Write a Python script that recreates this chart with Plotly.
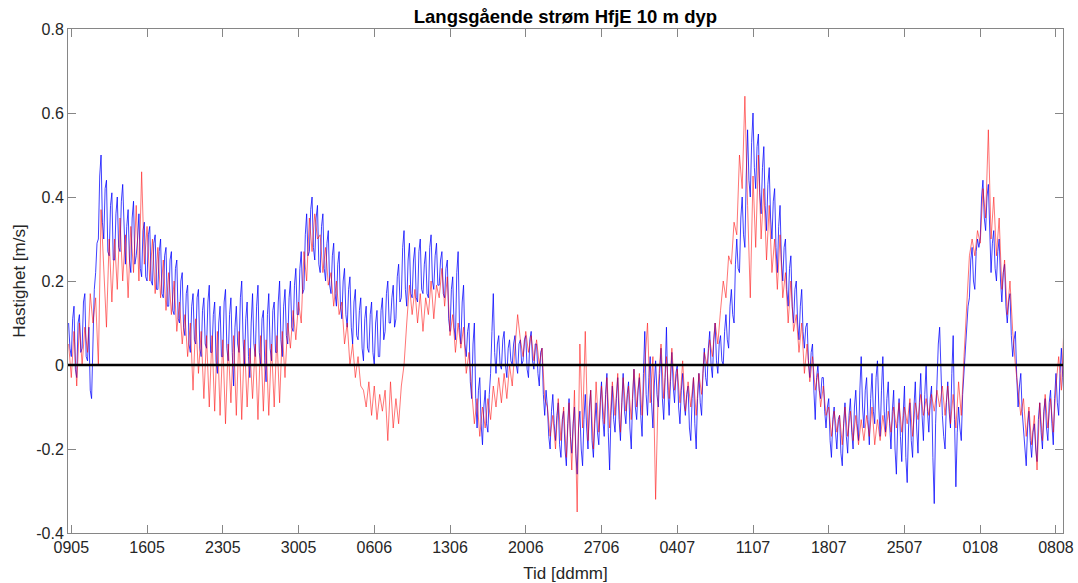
import pandas as pd
import plotly.graph_objects as go

start_time = "2021-05-08 18:00"

# blue: 3-hourly samples (8 per day: 00,03,...,21), starting 08.05 18:00
blue = [0.10, 0.04,
    0.02, 0.11, 0.14, -0.01, -0.03, 0.10, 0.12, 0.03,      # 09.05
    0.04, 0.15, 0.17, 0.02, 0.01, 0.09, -0.06, -0.08,
    0.05, 0.18, 0.22, 0.29, 0.30, 0.45, 0.50, 0.34,
    0.30, 0.42, 0.44, 0.27, 0.26, 0.38, 0.41, 0.25,
    0.25, 0.36, 0.40, 0.28, 0.27, 0.39, 0.43, 0.30,
    0.24, 0.33, 0.37, 0.25, 0.22, 0.35, 0.39, 0.24,
    0.26, 0.30, 0.36, 0.23, 0.21, 0.32, 0.34, 0.21,
    0.20, 0.31, 0.33, 0.20, 0.19, 0.29, 0.31, 0.18,      # 16.05
    0.18, 0.27, 0.30, 0.17, 0.16, 0.26, 0.28, 0.14,
    0.14, 0.25, 0.27, 0.13, 0.12, 0.23, 0.25, 0.11,
    0.10, 0.20, 0.22, 0.09, 0.07, 0.17, 0.19, 0.05,
    0.03, 0.14, 0.17, 0.06, 0.05, 0.16, 0.18, 0.04,
    0.02, 0.13, 0.16, 0.05, 0.04, 0.15, 0.19, 0.03,
    0.03, 0.12, 0.15, 0.01, -0.02, 0.10, 0.14, 0.02,
    0.02, 0.15, 0.18, 0.04, 0.01, 0.12, 0.16, 0.03,      # 23.05
    -0.05, 0.09, 0.14, 0.05, 0.03, 0.16, 0.20, 0.06,
    0.00, 0.11, 0.15, 0.02, -0.03, 0.10, 0.17, 0.05,
    0.02, 0.14, 0.19, 0.03, 0.00, 0.11, 0.13, 0.01,
    -0.04, 0.12, 0.17, 0.04, 0.01, 0.13, 0.15, 0.03,
    0.03, 0.15, 0.20, 0.06, 0.02, 0.14, 0.18, 0.07,
    0.05, 0.16, 0.20, 0.09, 0.08, 0.19, 0.23, 0.12,
    0.12, 0.23, 0.27, 0.17, 0.18, 0.31, 0.36, 0.26,      # 30.05
    0.27, 0.37, 0.40, 0.28, 0.25, 0.35, 0.38, 0.24,
    0.22, 0.33, 0.36, 0.23, 0.20, 0.29, 0.32, 0.19,
    0.17, 0.26, 0.29, 0.17, 0.14, 0.24, 0.27, 0.14,
    0.11, 0.20, 0.23, 0.12, 0.09, 0.18, 0.21, 0.09,
    0.05, 0.15, 0.18, 0.07, 0.06, 0.13, 0.16, 0.04,
    0.01, 0.11, 0.14, 0.04, 0.03, 0.12, 0.15, 0.03,
    0.00, 0.10, 0.13, 0.02, 0.02, 0.13, 0.16, 0.06,      # 06.06
    0.08, 0.17, 0.20, 0.10, 0.10, 0.16, 0.19, 0.09,
    0.11, 0.21, 0.24, 0.15, 0.16, 0.28, 0.32, 0.18,
    0.14, 0.25, 0.29, 0.17, 0.16, 0.25, 0.28, 0.16,
    0.15, 0.27, 0.30, 0.18, 0.17, 0.24, 0.27, 0.17,
    0.16, 0.28, 0.31, 0.20, 0.18, 0.26, 0.29, 0.19,
    0.19, 0.25, 0.27, 0.17, 0.16, 0.23, 0.25, 0.11,
    0.08, 0.18, 0.21, 0.09, 0.06, 0.22, 0.27, 0.09,      # 13.06
    0.05, 0.15, 0.19, 0.05, 0.02, 0.08, 0.10, -0.04,
    -0.08, 0.05, 0.10, -0.08, -0.15, -0.06, -0.03, -0.14,
    -0.19, -0.10, -0.06, -0.14, -0.16, -0.07, -0.02, 0.08,
    0.17, 0.03, -0.02, 0.05, 0.07, 0.00, -0.01, 0.06,
    0.08, 0.00, -0.03, 0.04, 0.06, 0.01, 0.00, 0.05,
    0.07, 0.00, -0.02, 0.05, 0.06, 0.00, 0.01, 0.06,
    0.07, -0.01, -0.03, 0.06, 0.08, 0.01, -0.01, 0.05,   # 20.06
    0.05, -0.02, -0.05, 0.03, 0.04, -0.07, -0.12, -0.06,
    -0.10, -0.17, -0.20, -0.11, -0.07, -0.14, -0.18, -0.12,
    -0.09, -0.19, -0.22, -0.13, -0.11, -0.20, -0.24, -0.14,
    -0.08, -0.17, -0.21, -0.14, -0.10, -0.21, -0.26, -0.15,
    -0.11, -0.20, -0.24, -0.13, -0.07, -0.15, -0.20, -0.10,
    -0.06, -0.18, -0.22, -0.14, -0.09, -0.16, -0.19, -0.09,
    -0.04, -0.13, -0.17, -0.07, -0.02, -0.16, -0.25, -0.12,  # 27.06
    -0.05, -0.13, -0.16, -0.08, -0.03, -0.13, -0.18, -0.09,
    -0.02, -0.11, -0.14, -0.07, -0.04, -0.15, -0.20, -0.08,
    -0.01, -0.10, -0.13, -0.06, -0.03, -0.12, -0.17, -0.02,
    0.08, -0.07, -0.12, -0.03, 0.02, -0.09, -0.15, -0.05,
    0.01, -0.07, -0.10, -0.02, 0.04, -0.08, -0.13, -0.03,
    0.09, -0.06, -0.12, -0.04, 0.03, -0.05, -0.09, -0.02,
    0.00, -0.10, -0.14, -0.06, -0.02, -0.09, -0.12, -0.07,   # 04.07
    -0.05, -0.15, -0.18, -0.08, -0.03, -0.14, -0.20, -0.08,
    -0.02, -0.09, -0.12, -0.02, 0.04, -0.03, -0.05, 0.04,
    0.08, 0.00, -0.03, 0.06, 0.10, 0.01, -0.02, 0.05,
    0.07, 0.01, 0.00, 0.08, 0.12, 0.06, 0.04, 0.14,
    0.18, 0.12, 0.10, 0.24, 0.30, 0.23, 0.22, 0.35,
    0.40, 0.31, 0.28, 0.45, 0.56, 0.44, 0.40, 0.53,
    0.60, 0.47, 0.42, 0.52, 0.55, 0.41, 0.36, 0.47,      # 11.07
    0.52, 0.38, 0.32, 0.43, 0.47, 0.35, 0.30, 0.39,
    0.42, 0.28, 0.22, 0.33, 0.38, 0.25, 0.20, 0.28,
    0.30, 0.18, 0.14, 0.23, 0.26, 0.14, 0.10, 0.18,
    0.20, 0.10, 0.06, 0.14, 0.18, 0.08, 0.04, 0.09,
    0.10, 0.01, -0.03, 0.03, 0.05, -0.06, -0.13, -0.03,
    0.00, -0.06, -0.08, -0.03, -0.03, -0.11, -0.15, -0.10,
    -0.08, -0.18, -0.22, -0.13, -0.10, -0.16, -0.20, -0.13,  # 18.07
    -0.12, -0.21, -0.24, -0.14, -0.09, -0.17, -0.21, -0.12,
    -0.08, -0.16, -0.20, -0.10, -0.06, -0.14, -0.18, -0.06,
    0.02, -0.10, -0.15, -0.06, -0.03, -0.13, -0.19, -0.08,
    -0.02, -0.11, -0.14, -0.03, 0.01, -0.10, -0.17, -0.06,
    0.02, -0.11, -0.16, -0.08, -0.04, -0.14, -0.20, -0.11,
    -0.06, -0.20, -0.26, -0.14, -0.08, -0.17, -0.23, -0.12,
    -0.05, -0.22, -0.28, -0.15, -0.09, -0.18, -0.22, -0.10,  # 25.07
    -0.04, -0.15, -0.21, -0.09, -0.02, -0.12, -0.18, -0.07,
    0.00, -0.11, -0.16, -0.08, -0.05, -0.22, -0.33, -0.14,
    -0.03, 0.05, 0.09, -0.04, -0.12, -0.17, -0.20, -0.09,
    -0.04, -0.11, -0.15, -0.02, 0.07, -0.13, -0.29, -0.16,
    -0.10, -0.15, -0.18, -0.07, -0.02, 0.05, 0.10, 0.14,
    0.16, 0.25, 0.28, 0.20, 0.18, 0.27, 0.30, 0.28,
    0.30, 0.40, 0.44, 0.35, 0.32, 0.40, 0.43, 0.29,      # 01.08
    0.22, 0.29, 0.32, 0.23, 0.20, 0.27, 0.30, 0.20,
    0.15, 0.22, 0.24, 0.14, 0.10, 0.15, 0.17, 0.07,
    0.02, 0.06, 0.08, -0.03, -0.10, -0.05, -0.02, -0.11,
    -0.15, -0.21, -0.24, -0.15, -0.11, -0.18, -0.22, -0.16,
    -0.14, -0.20, -0.23, -0.13, -0.09, -0.16, -0.20, -0.11,
    -0.08, -0.15, -0.18, -0.09, -0.06, -0.14, -0.19, -0.08,
    -0.02, -0.09, -0.12, -0.02, 0.04, -0.03, -0.08, -0.04,   # 08.08
    -0.05]

# red: 6-hourly samples (4 per day: 00,06,12,18), starting 08.05 18:00
red = [0.05,
    -0.03, 0.08, -0.05, 0.10,  # 09.05
    0.00, 0.09, 0.03, 0.17,
    0.10, 0.16, 0.00, 0.37,
    0.24, 0.09, 0.30, 0.15,
    0.30, 0.18, 0.35, 0.20,
    0.31, 0.16, 0.33, 0.22,
    0.38, 0.20, 0.46, 0.24,
    0.33, 0.20, 0.30, 0.17,    # 16.05
    0.28, 0.16, 0.25, 0.13,
    0.22, 0.12, 0.20, 0.08,
    0.15, 0.05, 0.12, 0.02,
    0.10, -0.06, 0.11, -0.02,
    0.08, -0.08, 0.07, -0.10,
    0.07, -0.11, 0.08, -0.12,
    0.06, -0.14, 0.05, -0.09,  # 23.05
    0.07, -0.12, 0.08, -0.13,
    0.06, -0.10, 0.04, -0.08,
    0.05, -0.13, 0.07, -0.11,
    0.06, -0.12, 0.05, -0.10,
    0.07, -0.09, 0.08, -0.03,
    0.10, 0.04, 0.13, 0.06,
    0.15, 0.10, 0.27, 0.20,    # 30.05
    0.35, 0.27, 0.36, 0.30,
    0.31, 0.22, 0.28, 0.19,
    0.22, 0.14, 0.20, 0.12,
    0.15, 0.05, 0.10, 0.00,
    0.05, -0.03, 0.02, -0.05,
    -0.06, -0.10, -0.04, -0.12,
    -0.05, -0.13, -0.07, -0.11,  # 06.06
    -0.06, -0.18, -0.04, -0.15,
    -0.08, -0.14, -0.05, 0.00,
    0.10, 0.19, 0.12, 0.18,
    0.10, 0.17, 0.08, 0.16,
    0.12, 0.20, 0.11, 0.19,
    0.16, 0.23, 0.14, 0.21,
    0.07, 0.12, 0.03, 0.10,      # 13.06
    0.04, 0.09, -0.02, 0.03,
    -0.06, -0.14, -0.08, -0.17,
    -0.10, -0.15, -0.08, -0.13,
    -0.05, -0.10, -0.03, -0.09,
    -0.02, -0.08, 0.00, -0.05,
    0.04, 0.12, 0.06, 0.02,
    0.08, 0.03, 0.07, 0.01,      # 20.06
    0.06, 0.00, 0.04, -0.08,
    -0.10, -0.17, -0.12, -0.20,
    -0.08, -0.18, -0.10, -0.22,
    -0.09, -0.25, -0.06, -0.35,
    0.05, -0.15, 0.08, -0.18,
    -0.06, -0.20, -0.04, -0.16,
    -0.05, -0.14, -0.03, -0.15,  # 27.06
    -0.04, -0.12, -0.02, -0.16,
    -0.03, -0.11, -0.05, -0.13,
    -0.01, -0.10, -0.02, -0.12,
    0.00, 0.10, -0.09, 0.02,
    -0.32, -0.05, 0.05, -0.08,
    0.02, -0.08, 0.04, -0.06,
    -0.01, -0.09, 0.01, -0.11,   # 04.07
    -0.04, -0.10, -0.03, -0.12,
    -0.02, -0.07, 0.03, 0.00,
    0.06, 0.02, 0.10, 0.05,
    0.13, 0.20, 0.16, 0.26,
    0.24, 0.34, 0.31, 0.50,
    0.42, 0.64, 0.38, 0.16,
    0.45, 0.28, 0.50, 0.30,      # 11.07
    0.42, 0.25, 0.38, 0.22,
    0.30, 0.18, 0.31, 0.16,
    0.22, 0.10, 0.20, 0.08,
    0.12, 0.03, 0.10, -0.02,
    0.05, -0.04, 0.02, -0.06,
    -0.02, -0.10, -0.05, -0.12,
    -0.10, -0.17, -0.11, -0.16,  # 18.07
    -0.12, -0.19, -0.10, -0.17,
    -0.11, -0.18, -0.12, -0.19,
    -0.13, -0.18, -0.12, -0.17,
    -0.10, -0.19, -0.13, -0.18,
    -0.12, -0.17, -0.11, -0.16,
    -0.10, -0.15, -0.09, -0.16,
    -0.10, -0.14, -0.08, -0.17,  # 25.07
    -0.09, -0.13, -0.07, -0.12,
    -0.08, -0.12, -0.07, -0.11,
    -0.06, -0.10, -0.05, -0.12,
    -0.05, -0.14, -0.07, -0.15,
    -0.04, -0.12, 0.02, 0.15,
    0.26, 0.30, 0.26, 0.32,
    0.29, 0.42, 0.35, 0.56,      # 01.08
    0.30, 0.40, 0.26, 0.35,
    0.18, 0.25, 0.12, 0.20,
    0.08, 0.00, -0.06, -0.12,
    -0.08, -0.17, -0.10, -0.19,
    -0.12, -0.25, -0.09, -0.18,
    -0.07, -0.15, -0.08, -0.16,
    -0.05, 0.02, -0.06, 0.10,    # 08.08
    0.05]

ytick_vals = [-0.4, -0.2, 0, 0.2, 0.4, 0.6, 0.8]
ytick_text = ["-0.4", "-0.2", "0", "0.2", "0.4", "0.6", "0.8"]
xtick_dates = ["2021-05-09", "2021-05-16", "2021-05-23", "2021-05-30", "2021-06-06",
               "2021-06-13", "2021-06-20", "2021-06-27", "2021-07-04", "2021-07-11",
               "2021-07-18", "2021-07-25", "2021-08-01", "2021-08-08"]
xtick_text = ["0905", "1605", "2305", "3005", "0606", "1306", "2006", "2706",
              "0407", "1107", "1807", "2507", "0108", "0808"]

t_blue = pd.date_range(start=start_time, periods=len(blue), freq="3h")
t_red = pd.date_range(start=start_time, periods=len(red), freq="6h")

font_family = "Liberation Sans, Arial, Helvetica, sans-serif"

fig = go.Figure()
fig.add_trace(go.Scatter(x=t_blue, y=blue, mode="lines",
                         line=dict(color="#0000ff", width=0.75), showlegend=False))
fig.add_trace(go.Scatter(x=t_red, y=red, mode="lines",
                         line=dict(color="#ff0000", width=0.6), opacity=0.9, showlegend=False))

fig.add_shape(type="line", xref="paper", yref="y", x0=0, x1=1, y0=0, y1=0,
              line=dict(color="black", width=2.5))

axis_common = dict(showgrid=False, zeroline=False, showline=True, mirror="ticks",
                   linecolor="#868686", linewidth=1, ticks="inside", ticklen=8,
                   tickcolor="#868686", tickwidth=1, automargin=False,
                   tickfont=dict(family=font_family, size=16, color="#262626"))

fig.update_layout(
    width=1078, height=583,
    autosize=False,
    margin=dict(l=68, r=15, t=29, b=50),
    paper_bgcolor="white", plot_bgcolor="white",
    title=dict(text="<b>Langsgående strøm HfjE 10 m dyp</b>", x=0.5245, xanchor="center",
               y=0.972, yanchor="middle",
               font=dict(family=font_family, size=18.5, color="black")),
    xaxis=dict(range=["2021-05-08 16:40", "2021-08-08 15:35"],
               tickvals=xtick_dates, ticktext=xtick_text,
               title=dict(text="Tid [ddmm]", standoff=13,
                          font=dict(family=font_family, size=17, color="#262626")),
               **axis_common),
    yaxis=dict(range=[-0.4, 0.8], tickvals=ytick_vals, ticktext=ytick_text,
               title=dict(text="Hastighet [m/s]", standoff=6,
                          font=dict(family=font_family, size=17, color="#262626")),
               **axis_common),
)

fig.write_html(
    "out.html",
    config={"displayModeBar": False, "responsive": False},
    post_script="document.body.style.margin='0';document.body.style.overflow='hidden';",
)
